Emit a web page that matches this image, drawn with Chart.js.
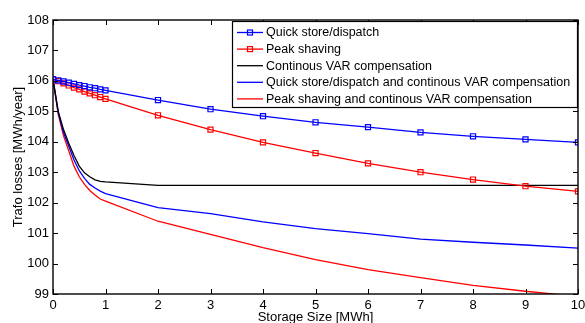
<!DOCTYPE html>
<html>
<head>
<meta charset="utf-8">
<script src="https://cdn.jsdelivr.net/npm/chart.js@4.4.0/dist/chart.umd.min.js"></script>
<style>
  html, body { margin: 0; padding: 0; background: #fff; }
  #wrap { width: 585px; height: 323px; }
</style>
</head>
<body>
<div id="wrap"><canvas id="chart" width="585" height="323"></canvas></div>
<script>
// Storage size samples (MWh): fine steps up to 1, then whole MWh
const storageSize = [0, 0.1, 0.2, 0.3, 0.4, 0.5, 0.6, 0.7, 0.8, 0.9, 1, 2, 3, 4, 5, 6, 7, 8, 9, 10];

// Trafo losses (MWh/year)
const quickStore  = [106.05, 106.02, 105.98, 105.94, 105.90, 105.86, 105.83, 105.79, 105.76, 105.72, 105.69,
                     105.37, 105.07, 104.84, 104.64, 104.48, 104.31, 104.18, 104.08, 103.98];
const peakShaving = [106.05, 105.99, 105.92, 105.85, 105.78, 105.72, 105.65, 105.59, 105.53, 105.47, 105.41,
                     104.87, 104.40, 103.98, 103.63, 103.29, 103.00, 102.76, 102.54, 102.37];
const varComp     = [106.05, 105.00, 104.40, 103.95, 103.55, 103.20, 102.98, 102.85, 102.75, 102.70, 102.68,
                     102.57, 102.57, 102.57, 102.57, 102.57, 102.57, 102.57, 102.57, 102.57];
const quickVar    = [106.05, 104.95, 104.30, 103.85, 103.40, 103.05, 102.80, 102.60, 102.48, 102.38, 102.30,
                     101.84, 101.64, 101.37, 101.15, 100.98, 100.80, 100.70, 100.61, 100.51];
const peakVar     = [106.05, 104.90, 104.20, 103.70, 103.20, 102.85, 102.60, 102.40, 102.25, 102.12, 102.05,
                     101.39, 100.96, 100.52, 100.13, 99.80, 99.54, 99.28, 99.09, 98.92];

const seriesLabels = [
    'Quick store/dispatch',
    'Peak shaving',
    'Continous VAR compensation',
    'Quick store/dispatch and continous VAR compensation',
    'Peak shaving and continous VAR compensation'
];

const FONT = 'Liberation Sans, Arial, sans-serif';

function toPoints(values) {
    return storageSize.map((x, i) => ({ x: x, y: values[i] }));
}

function makeSeries(label, values, color, marker) {
    return {
        label: label,
        data: toPoints(values),
        borderColor: color,
        backgroundColor: color,
        borderWidth: 1.3,
        tension: 0,
        pointStyle: marker ? 'rect' : false,
        pointRadius: marker ? 3.6 : 0,
        pointBorderWidth: 1.2,
        pointBorderColor: color,
        pointBackgroundColor: 'rgba(0,0,0,0)',
        marker: marker
    };
}

// MATLAB style box with inward ticks on all four sides
const boxPlugin = {
    id: 'box',
    afterDatasetsDraw(chart) {
        const { ctx, chartArea: a, scales } = chart;
        const len = 5;
        ctx.save();
        ctx.strokeStyle = '#000';
        ctx.lineWidth = 1;
        ctx.beginPath();
        scales.x.ticks.forEach(t => {
            const px = Math.round(scales.x.getPixelForValue(t.value)) + 0.5;
            ctx.moveTo(px, a.bottom); ctx.lineTo(px, a.bottom - len);
            ctx.moveTo(px, a.top); ctx.lineTo(px, a.top + len);
        });
        scales.y.ticks.forEach(t => {
            const py = Math.round(scales.y.getPixelForValue(t.value)) + 0.5;
            ctx.moveTo(a.left, py); ctx.lineTo(a.left + len, py);
            ctx.moveTo(a.right, py); ctx.lineTo(a.right - len, py);
        });
        ctx.stroke();
        ctx.lineWidth = 1.4;
        ctx.strokeRect(a.left, a.top, a.right - a.left, a.bottom - a.top);
        ctx.restore();
    }
};

// Legend box drawn inside the plot, top right
const legendPlugin = {
    id: 'insideLegend',
    afterDraw(chart) {
        const { ctx, chartArea: a } = chart;
        const boxW = 346, rowH = 16.6, boxH = 87;
        const x0 = a.right - boxW, y0 = a.top + 1;
        ctx.save();
        ctx.fillStyle = '#fff';
        ctx.fillRect(x0, y0, boxW, boxH);
        ctx.strokeStyle = '#000';
        ctx.lineWidth = 1.2;
        ctx.strokeRect(x0 + 0.5, y0 + 0.5, boxW - 1, boxH - 1);
        ctx.font = '12.5px ' + FONT;
        ctx.textBaseline = 'middle';
        chart.data.datasets.forEach((ds, i) => {
            const y = y0 + 11.5 + i * rowH;
            ctx.strokeStyle = ds.borderColor;
            ctx.lineWidth = 1.3;
            ctx.beginPath();
            ctx.moveTo(x0 + 5, y); ctx.lineTo(x0 + 31, y);
            ctx.stroke();
            if (ds.marker) {
                ctx.lineWidth = 1.2;
                ctx.strokeRect(x0 + 15.5, y - 2.5, 5, 5);
            }
            ctx.fillStyle = '#000';
            ctx.fillText(ds.label, x0 + 34, y + 0.5);
        });
        ctx.restore();
    }
};

new Chart(document.getElementById('chart'), {
    type: 'line',
    data: {
        datasets: [
            makeSeries(seriesLabels[0], quickStore, '#0000ff', true),
            makeSeries(seriesLabels[1], peakShaving, '#ff0000', true),
            makeSeries(seriesLabels[2], varComp, '#000000', false),
            makeSeries(seriesLabels[3], quickVar, '#0000ff', false),
            makeSeries(seriesLabels[4], peakVar, '#ff0000', false)
        ]
    },
    options: {
        responsive: false,
        animation: false,
        events: [],
        layout: { padding: { top: 20, right: 0, left: 0, bottom: 0 } },
        plugins: {
            legend: { display: false },
            tooltip: { enabled: false }
        },
        scales: {
            x: {
                type: 'linear',
                min: 0,
                max: 10,
                afterFit(scale) {
                    scale.height = 29;
                    scale.paddingLeft = 0;
                    scale.paddingRight = 7;
                },
                grid: { display: false, drawTicks: false },
                border: { display: false },
                ticks: {
                    stepSize: 1,
                    padding: 4,
                    color: '#000',
                    maxRotation: 0,
                    font: { family: FONT, size: 13 }
                },
                title: {
                    display: true,
                    text: 'Storage Size [MWh]',
                    color: '#000',
                    font: { family: FONT, size: 13, lineHeight: 0.9 },
                    padding: { top: 0, bottom: 0 }
                }
            },
            y: {
                min: 99,
                max: 108,
                afterFit(scale) { scale.width = 53; },
                grid: { display: false, drawTicks: false },
                border: { display: false },
                ticks: {
                    stepSize: 1,
                    padding: 4,
                    color: '#000',
                    font: { family: FONT, size: 13 }
                },
                title: {
                    display: true,
                    text: 'Trafo losses [MWh/year]',
                    color: '#000',
                    font: { family: FONT, size: 13 },
                    padding: { top: 11, bottom: 0 }
                }
            }
        }
    },
    plugins: [boxPlugin, legendPlugin]
});
</script>
</body>
</html>
